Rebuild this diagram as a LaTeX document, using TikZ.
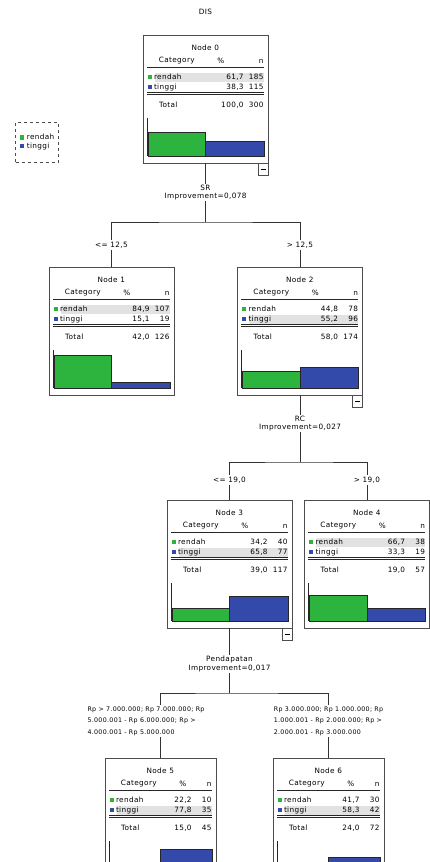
\documentclass[tikz,border=0pt]{standalone}
\usepackage{fontspec}
\setmainfont[LetterSpace=5]{DejaVu Sans}
\usetikzlibrary{positioning}

\definecolor{spssgreen}{RGB}{44,180,62}
\definecolor{spssblue}{RGB}{52,74,170}
\definecolor{rowgray}{RGB}{226,226,226}

% width of a tree node box (pt)
\newcommand{\nodew}{125}
% #1 name, #2 position, #3 number, #4/#5 rendah, #6/#7 tinggi, #8/#9 total
\newcommand{\ctnode}[9]{%
  \node[ctbox, minimum width=\nodew pt] (#1) at #2 {};
  \begin{scope}[shift={(#1.north west)}]
    \pgfmathsetmacro{\bw}{\nodew-4}
    \pgfmathsetmacro{\bm}{\nodew/2}
    \pgfmathsetmacro{\hrnd}{38*#5/#9}
    \pgfmathsetmacro{\htgi}{38*#7/#9}
    \pgfmathsetmacro{\hrow}{#5>#7 ? 42 : 52}
    \fill[rowgray] (12,\hrow-4.5) rectangle (\bw,\hrow+4.5);
    \node[celltxt] at (\bm,13) {Node #3};
    \node[celltxt] at (34,26) {Category};
    \node[celltxt] at (78,26) {\%};
    \node[celltxt, anchor=east] at (\bw,26) {n};
    \draw[tblline] (4,32) -- (\bw,32);
    \fill[spssgreen] (5,40) rectangle (9,44);
    \node[celltxt, anchor=west] at (11,42) {rendah};
    \node[celltxt, anchor=east] at (\bw-20,42) {#4};
    \node[celltxt, anchor=east] at (\bw,42) {#5};
    \fill[spssblue] (5,50) rectangle (9,54);
    \node[celltxt, anchor=west] at (11,52) {tinggi};
    \node[celltxt, anchor=east] at (\bw-20,52) {#6};
    \node[celltxt, anchor=east] at (\bw,52) {#7};
    \draw[tblline] (4,57) -- (\bw,57) (4,59) -- (\bw,59);
    \node[celltxt, anchor=west] at (16,70) {Total};
    \node[celltxt, anchor=east] at (\bw-20,70) {#8};
    \node[celltxt, anchor=east] at (\bw,70) {#9};
    \draw[tblline] (4,83) -- (4,121);
    \filldraw[barbox, fill=spssgreen] (5,121) rectangle (\bm,121-\hrnd);
    \filldraw[barbox, fill=spssblue] (\bm,121) rectangle (\bw,121-\htgi);
  \end{scope}}

\begin{document}
\begin{tikzpicture}[
    x=1pt, y=-1pt,
    font=\fontsize{7.3}{8.6}\selectfont,
    ctbox/.style={
        rectangle,
        draw=gray!60!black,
        fill=white,
        minimum height=128pt,
        inner sep=0pt,
        anchor=north
    },
    celltxt/.style={inner sep=0pt, text=black},
    tblline/.style={draw=black!85, line width=0.5pt},
    barbox/.style={draw=black!85, line width=0.6pt},
    collapse/.style={draw=gray!60!black, fill=white, minimum width=10pt,
        minimum height=12pt, inner sep=0pt, anchor=north east},
    conn/.style={draw=black!80, line width=0.7pt},
    splitlbl/.style={align=center, inner sep=1pt, text=black},
    edgelbl/.style={fill=white, inner sep=1.5pt, text=black},
    legendbox/.style={draw=black!70, dashed, align=left, inner sep=4pt,
        minimum height=40pt}
]
\useasboundingbox (0,0) rectangle (429,862);

% --- titel ---
\node[splitlbl] (title) at (205.5,12) {DIS};

% --- legenda ---
\node[legendbox] (legend) at (37,142)
  {\textcolor{spssgreen}{\rule{4.5pt}{4.5pt}} rendah\\
   \textcolor{spssblue}{\rule{4.5pt}{4.5pt}} tinggi};

% --- node pohon ---
\ctnode{n0}{(205.5,35)}{0}{61,7}{185}{38,3}{115}{100,0}{300}
\ctnode{n1}{(111.5,267)}{1}{84,9}{107}{15,1}{19}{42,0}{126}
\ctnode{n2}{(300,267)}{2}{44,8}{78}{55,2}{96}{58,0}{174}
\ctnode{n3}{(229.5,500)}{3}{34,2}{40}{65,8}{77}{39,0}{117}
\ctnode{n4}{(367,500)}{4}{66,7}{38}{33,3}{19}{19,0}{57}
\renewcommand{\nodew}{111}
\ctnode{n5}{(160.5,758)}{5}{22,2}{10}{77,8}{35}{15,0}{45}
\ctnode{n6}{(328.5,758)}{6}{41,7}{30}{58,3}{42}{24,0}{72}

% --- tombol collapse ---
\node[collapse] (m0) at (n0.south east) {\rule[1.5pt]{5pt}{0.5pt}};
\node[collapse] (m2) at (n2.south east) {\rule[1.5pt]{5pt}{0.5pt}};
\node[collapse] (m3) at (n3.south east) {\rule[1.5pt]{5pt}{0.5pt}};

% --- split SR ---
\node[splitlbl] (srsplit) at (205.5,192.5) {SR\\Improvement=0,078};
\coordinate (srbar) at (205.5,222);
\draw[conn] (n0.south) -- (srsplit.north);
\draw[conn] (srsplit.south) -- (srbar);
\draw[conn] (n1.north) |- (srbar) -| (n2.north);
\node[edgelbl] (e1) at (111.5,245) {<= 12,5};
\node[edgelbl] (e2) at (300,245) {> 12,5};

% --- split RC ---
\node[splitlbl] (rcsplit) at (300,423.5) {RC\\Improvement=0,027};
\coordinate (rcbar) at (300,462);
\draw[conn] (n2.south) -- (rcsplit.north);
\draw[conn] (rcsplit.south) -- (rcbar);
\draw[conn] (n3.north) |- (rcbar) -| (n4.north);
\node[edgelbl] (e3) at (229.5,480) {<= 19,0};
\node[edgelbl] (e4) at (367,480) {> 19,0};

% --- split Pendapatan ---
\node[splitlbl] (pdsplit) at (229.5,664) {Pendapatan\\Improvement=0,017};
\coordinate (pdbar) at (229.5,693);
\draw[conn] (n3.south) -- (pdsplit.north);
\draw[conn] (pdsplit.south) -- (pdbar);
\draw[conn] (n5.north) |- (pdbar) -| (n6.north);
\node[edgelbl, align=left, font=\fontsize{6.3}{11.5}\selectfont] (e5) at (146,721)
  {Rp > 7.000.000; Rp 7.000.000; Rp\\
   5.000.001 - Rp 6.000.000; Rp >\\
   4.000.001 - Rp 5.000.000};
\node[edgelbl, align=left, font=\fontsize{6.3}{11.5}\selectfont] (e6) at (328.5,721)
  {Rp 3.000.000; Rp 1.000.000; Rp\\
   1.000.001 - Rp 2.000.000; Rp >\\
   2.000.001 - Rp 3.000.000};

\end{tikzpicture}
\end{document}
